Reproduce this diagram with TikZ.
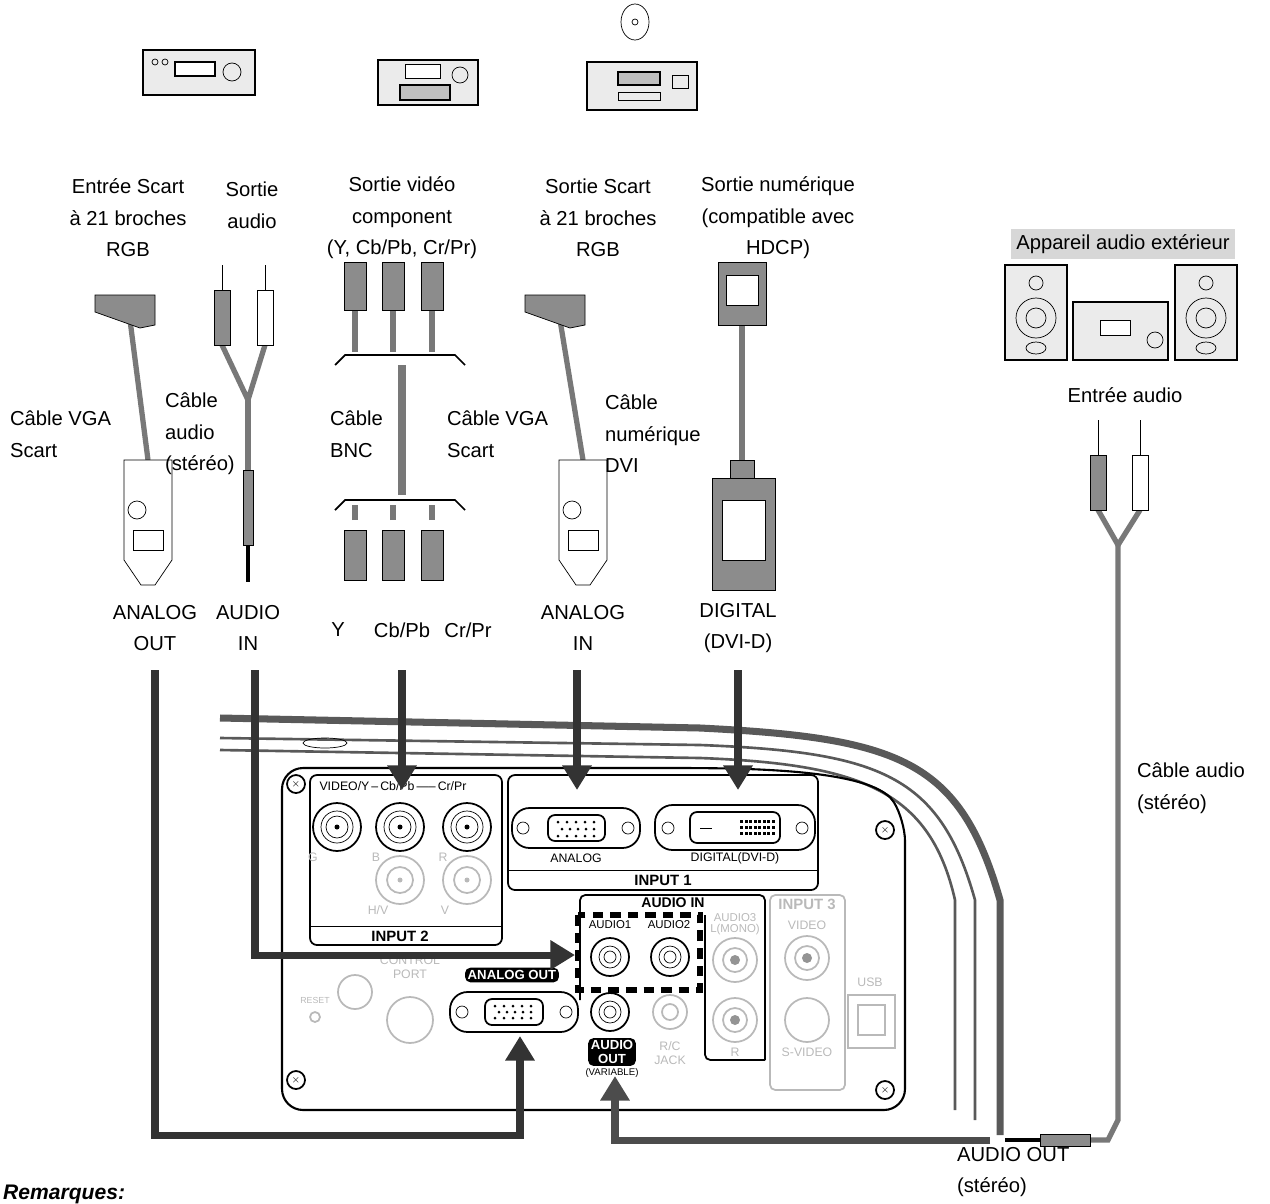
\documentclass[tikz,border=0pt]{standalone}
\usepackage{fontspec}
\setmainfont{Liberation Sans}
\usepackage{tikz}
\usetikzlibrary{arrows.meta,positioning}
\definecolor{cablegray}{RGB}{120,120,120}
\definecolor{plugfill}{RGB}{140,140,140}
\definecolor{paleline}{RGB}{185,185,185}
\definecolor{boxgray}{RGB}{215,215,215}

\tikzset{
  lbl/.style={align=center, font=\fontsize{11.5}{18}\selectfont, inner sep=1pt},
  lbll/.style={lbl, align=left, anchor=west},
  panel/.style={font=\fontsize{7}{8}\selectfont, inner sep=0.5pt, align=center},
  pale/.style={draw=paleline, line width=1pt},
  thickarr/.style={line width=4pt, draw=black!80, -{Triangle[length=14pt,width=16pt]}},
  cable/.style={line width=3pt, draw=cablegray},
  device/.style={draw, line width=0.8pt, fill=black!8},
  jack/.style={draw, line width=1pt, fill=white},
}

\begin{document}
\begin{tikzpicture}[x=0.02cm, y=-0.02cm]
    \useasboundingbox (0,0) rectangle (1270,1203);

    % devices on top
    \draw[device] (143,50) rectangle (255,95);
    \draw[device,fill=white] (175,62) rectangle (215,76);
    \draw (232,72) circle (9);
    \draw (155,62) circle (3);
    \draw (165,62) circle (3);
    \draw[device] (378,60) rectangle (478,105);
    \draw[device,fill=black!25] (400,85) rectangle (450,100);
    \draw[fill=white] (405,64) rectangle (440,78);
    \draw (460,75) circle (8);
    \draw[device] (587,62) rectangle (697,110);
    \draw[device,fill=black!25] (618,72) rectangle (660,85);
    \draw (618,92) rectangle (660,100);
    \draw (672,75) rectangle (688,88);
    \draw[fill=white] (635,22) ellipse (14 and 18);
    \draw (635,22) circle (3);

    % source labels
    \node[lbl] (srcScart) at (128,218) {Entrée Scart\\à 21 broches\\RGB};
    \node[lbl] (srcAudio) at (252,205) {Sortie\\audio};
    \node[lbl] (srcBnc) at (402,218) {Sortie vidéo\\component\\(Y, Cb/Pb, Cr/Pr)};
    \node[lbl] (srcScart2) at (598,218) {Sortie Scart\\à 21 broches\\RGB};
    \node[lbl] (srcDvi) at (778,218) {Sortie numérique\\(compatible avec\\HDCP)};
    \node[lbl, fill=boxgray, inner sep=3pt] (extAudio) at (1123,244) {Appareil audio extérieur};

    % speakers and amplifier
    \foreach \sx in {1005,1175}{
      \draw[device] (\sx,265) rectangle ++(62,95);
      \draw (\sx+31,283) circle (7);
      \draw (\sx+31,318) circle (20);
      \draw (\sx+31,318) circle (10);
      \draw (\sx+31,348) ellipse (10 and 6);
    }
    \draw[device] (1073,302) rectangle (1168,360);
    \draw[fill=white] (1100,320) rectangle (1130,335);
    \draw (1155,340) circle (8);
    \node[lbl] (inAudio) at (1125,395) {Entrée audio};

    % scart -> VGA (left)
    \draw[cable] (130,320) -- (148,460);
    \draw[fill=plugfill] (95,295) -- (155,295) -- (155,325) -- (140,328) -- (95,312) -- cycle;
    \draw[fill=white] (124,460) -- (172,460) -- (172,560) -- (155,585) -- (141,585) -- (124,560) -- cycle;
    \draw (137,510) circle (9);
    \draw (133,530) rectangle (163,550);
    % scart -> VGA (right)
    \draw[cable] (560,320) -- (583,460);
    \draw[fill=plugfill] (525,295) -- (585,295) -- (585,325) -- (570,328) -- (525,312) -- cycle;
    \draw[fill=white] (559,460) -- (607,460) -- (607,560) -- (590,585) -- (576,585) -- (559,560) -- cycle;
    \draw (572,510) circle (9);
    \draw (568,530) rectangle (598,550);

    % audio cable (left)
    \draw[cable] (222,345) -- (248,400) -- (265,345);
    \draw[cable] (248,400) -- (248,470);
    \draw[fill=plugfill] (214,290) rectangle (230,345);
    \draw[fill=white] (257,290) rectangle (273,345);
    \draw (222,290) -- (222,265);
    \draw (265,290) -- (265,265);
    \draw[fill=plugfill] (243,470) rectangle (253,545);
    \draw[line width=2pt] (248,545) -- (248,582);

    % BNC cable
    \foreach \bx in {355,393,432}{
      \draw[cable] (\bx,310) -- (\bx,352);
      \draw[fill=plugfill] (\bx-11,262) rectangle (\bx+11,310);
      \draw[cable] (\bx,520) -- (\bx,505);
      \draw[fill=plugfill] (\bx-11,530) rectangle (\bx+11,580);
    }
    \draw[line width=1pt] (335,365) -- (345,355) -- (455,355) -- (465,365);
    \draw[line width=1pt] (335,510) -- (345,500) -- (455,500) -- (465,510);
    \draw[line width=5pt, draw=cablegray] (402,365) -- (402,495);

    % DVI cable
    \draw[cable] (742,320) -- (742,460);
    \draw[fill=plugfill] (718,262) rectangle (766,325);
    \draw[fill=white] (726,275) rectangle (758,305);
    \draw[fill=plugfill] (712,478) rectangle (775,590);
    \draw[fill=white] (722,500) rectangle (765,560);
    \draw[fill=plugfill] (730,460) rectangle (754,478);

    % cable labels
    \node[lbll] (cVga) at (8,434) {Câble VGA\\Scart};
    \node[lbll] (cAudio) at (163,434) {Câble\\audio\\(stéréo)};
    \node[lbll] (cBnc) at (328,434) {Câble\\BNC};
    \node[lbll] (cVga2) at (445,434) {Câble VGA\\Scart};
    \node[lbll] (cDvi) at (603,434) {Câble\\numérique\\DVI};

    % port labels
    \node[lbl] (pAnOut) at (155,628) {ANALOG\\OUT};
    \node[lbl] (pAudIn) at (248,628) {AUDIO\\IN};
    \node[lbl] (pY) at (338,630) {Y};
    \node[lbl] (pCb) at (402,630) {Cb/Pb};
    \node[lbl] (pCr) at (468,630) {Cr/Pr};
    \node[lbl] (pAnIn) at (583,628) {ANALOG\\IN};
    \node[lbl] (pDig) at (738,628) {DIGITAL\\(DVI-D)};

    % projector body
    \draw[line width=4pt, draw=black!65] (220,718) -- (700,728) .. controls (900,738) and (960,760) .. (1000,900) -- (1000,1135);
    \draw[line width=1.5pt, draw=black!65] (220,738) -- (700,745) .. controls (880,752) and (940,775) .. (975,900) -- (975,1120);
    \draw[line width=1.5pt, draw=black!65] (220,750) -- (700,758) .. controls (860,764) and (930,790) .. (955,900) -- (955,1110);
    \draw[line width=1.2pt, rounded corners=12pt] (282,1110) -- (282,768) -- (700,768) .. controls (820,770) and (880,780) .. (905,820) -- (905,1110) -- cycle;
    \draw (325,743) ellipse (22 and 5);
    \foreach \sx/\sy in {296/784,296/1080,885/830,885/1090}{
      \draw[line width=1pt, fill=white] (\sx,\sy) circle (9);
      \node[font=\tiny] at (\sx,\sy) {$\times$};
    }

    % INPUT 2
    \draw[line width=1pt, rounded corners=4pt] (310,775) rectangle (502,945);
    \draw (310,926) -- (502,926);
    \node[panel, font=\fontsize{8.5}{10}\selectfont\bfseries] (inTwo) at (400,936) {INPUT 2};
    \node[panel] (lVideo) at (393,786) {VIDEO/Y\,--\,Cb/Pb\,-----\,Cr/Pr};
    \foreach \jx/\jl in {337/G,400/B,467/R}{
      \draw[jack] (\jx,827) circle (24);
      \draw (\jx,827) circle (16);
      \draw (\jx,827) circle (11);
      \fill (\jx,827) circle (2.5);
      \node[panel, text=paleline] at (\jx-24,857) {\jl};
    }
    \foreach \jx/\jl in {400/H\slash V,467/V}{
      \draw[pale] (\jx,880) circle (24);
      \draw[pale] (\jx,880) circle (13);
      \fill[paleline] (\jx,880) circle (2.5);
      \node[panel, text=paleline] at (\jx-22,910) {\jl};
    }

    % INPUT 1
    \draw[line width=1pt, rounded corners=4pt] (508,775) rectangle (818,890);
    \draw (508,870) -- (818,870);
    \node[panel, font=\fontsize{8.5}{10}\selectfont\bfseries] (inOne) at (663,880) {INPUT 1};
    \draw[jack, rounded corners=10pt] (512,808) rectangle (640,848);
    \draw[jack, rounded corners=4pt] (548,815) rectangle (605,841);
    \foreach \dx in {0,...,4}{
      \fill (558+\dx*9,822) circle (1.5);
      \fill (562+\dx*8,829) circle (1.5);
      \fill (558+\dx*9,836) circle (1.5);
    }
    \draw (523,828) circle (6);
    \draw (628,828) circle (6);
    \node[panel] (lAnalog) at (576,858) {ANALOG};
    \draw[jack, rounded corners=10pt] (655,805) rectangle (815,850);
    \draw[jack, rounded corners=4pt] (690,812) rectangle (780,843);
    \foreach \dx in {0,...,7}{
      \fill (740+\dx*4.5,820) rectangle ++(3,3);
      \fill (740+\dx*4.5,826) rectangle ++(3,3);
      \fill (740+\dx*4.5,832) rectangle ++(3,3);
    }
    \draw (700,828) -- (712,828);
    \draw (668,828) circle (6);
    \draw (802,828) circle (6);
    \node[panel] (lDigital) at (735,858) {DIGITAL(DVI-D)};

    % AUDIO IN
    \draw[line width=1pt, rounded corners=3pt] (580,1000) -- (580,895) -- (765,895) -- (765,1060);
    \node[panel, font=\fontsize{8}{9}\selectfont\bfseries] (lAudIn) at (673,903) {AUDIO IN};
    \draw[line width=3pt, dash pattern=on 6pt off 4pt] (578,915) rectangle (700,990);
    \node[panel, font=\fontsize{6.5}{7}\selectfont] (lA1) at (610,925) {AUDIO1};
    \node[panel, font=\fontsize{6.5}{7}\selectfont] (lA2) at (669,925) {AUDIO2};
    \foreach \jx in {610,670}{
      \draw[jack] (\jx,957) circle (19);
      \draw (\jx,957) circle (11);
      \draw (\jx,957) circle (6);
    }
    \draw[line width=1pt, rounded corners=3pt] (705,915) -- (705,1060) -- (765,1060);
    \node[panel, text=paleline, font=\fontsize{6.5}{6}\selectfont] (lA3) at (735,924) {AUDIO3\\L(MONO)};
    \foreach \jy in {960,1020}{
      \draw[pale] (735,\jy) circle (22);
      \draw[pale] (735,\jy) circle (12);
      \fill[paleline!80!black] (735,\jy) circle (5);
    }
    \node[panel, text=paleline] at (735,1052) {R};

    % INPUT 3
    \draw[pale, rounded corners=3pt] (770,895) rectangle (845,1090);
    \node[panel, text=paleline, font=\fontsize{8.5}{10}\selectfont\bfseries] (inThree) at (807,904) {INPUT 3};
    \node[panel, text=paleline] at (807,925) {VIDEO};
    \draw[pale] (807,958) circle (22);
    \draw[pale] (807,958) circle (12);
    \fill[paleline!80!black] (807,958) circle (5);
    \draw[pale] (807,1020) circle (22);
    \node[panel, text=paleline] at (807,1052) {S-VIDEO};
    \node[panel, text=paleline] at (870,982) {USB};
    \draw[pale] (848,995) rectangle (895,1048);
    \draw[pale] (858,1005) rectangle (885,1035);

    % lower row
    \node[panel, text=paleline] at (410,967) {CONTROL\\PORT};
    \draw[pale] (410,1020) circle (23);
    \draw[pale] (355,992) circle (17);
    \node[panel, text=paleline, font=\tiny] at (315,1000) {RESET};
    \draw[pale] (315,1017) circle (5);
    \node[panel, fill=black, text=white, font=\fontsize{7.5}{9}\selectfont\bfseries, rounded corners=3pt, inner sep=1.5pt] (lAnOut) at (512,975) {ANALOG OUT};
    \draw[jack, rounded corners=10pt] (450,992) rectangle (578,1032);
    \draw[jack, rounded corners=4pt] (485,999) rectangle (543,1025);
    \foreach \dx in {0,...,4}{
      \fill (495+\dx*9,1006) circle (1.5);
      \fill (499+\dx*8,1012) circle (1.5);
      \fill (495+\dx*9,1018) circle (1.5);
    }
    \draw (462,1012) circle (6);
    \draw (566,1012) circle (6);
    \draw[jack] (610,1012) circle (19);
    \draw (610,1012) circle (11);
    \draw (610,1012) circle (6);
    \node[panel, fill=black, text=white, font=\fontsize{7.5}{7.5}\selectfont\bfseries, rounded corners=3pt, inner sep=1.5pt] (lAudOut) at (612,1052) {AUDIO\\OUT};
    \node[panel, font=\fontsize{5.5}{7}\selectfont] at (612,1073) {(VARIABLE)};
    \draw[pale] (670,1012) circle (17);
    \draw[pale] (670,1012) circle (8);
    \node[panel, text=paleline] at (670,1053) {R/C\\JACK};

    % connection arrows
    \coordinate (vgaOut) at (520,1036);
    \coordinate (audIn) at (575,955);
    \coordinate (bncIn) at (402,790);
    \coordinate (anIn) at (577,790);
    \coordinate (digIn) at (738,790);
    \coordinate (audOut) at (615,1076);
    \draw[thickarr] (155,670) -- (155,1135) -- (520,1135) -- (vgaOut);
    \draw[thickarr] (255,670) -- (255,955) -- (audIn);
    \draw[thickarr] (402,670) -- (bncIn);
    \draw[thickarr] (577,670) -- (anIn);
    \draw[thickarr] (738,670) -- (digIn);
    \draw[thickarr, draw=black!70] (990,1140) -- (615,1140) -- (audOut);

    % external audio cable
    \draw[cable] (1098,510) -- (1118,545) -- (1140,510);
    \draw[cable] (1118,545) -- (1118,1120) -- (1108,1140) -- (1090,1140);
    \draw[fill=plugfill] (1090,455) rectangle (1106,510);
    \draw[fill=white] (1132,455) rectangle (1148,510);
    \draw (1098,455) -- (1098,420);
    \draw (1140,455) -- (1140,420);
    \draw[fill=plugfill] (1040,1134) rectangle (1090,1146);
    \draw[line width=2pt] (1005,1140) -- (1040,1140);

    \node[lbll] (cAudioExt) at (1135,788) {Câble audio\\(stéréo)};
    \node[lbll] (lAudioOut) at (955,1172) {AUDIO OUT\\(stéréo)};
    \node[anchor=west, font=\fontsize{12}{16}\selectfont\bfseries\itshape] (remarks) at (-3,1194) {Remarques:};
\end{tikzpicture}
\end{document}
